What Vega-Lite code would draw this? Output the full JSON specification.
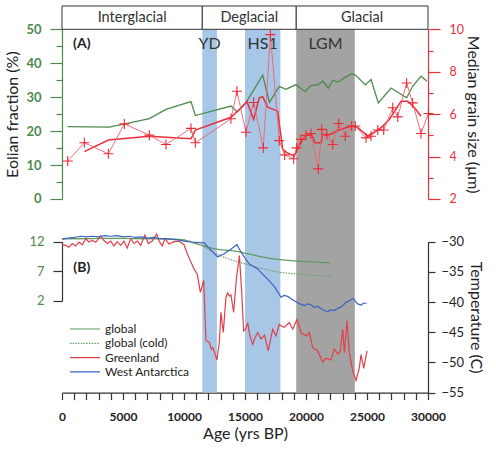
{
  "$schema": "https://vega.github.io/schema/vega-lite/v6.json",
  "width": 366,
  "height": 386.6,
  "padding": {"left": 4, "top": 5, "right": 4, "bottom": 4},
  "config": {"font": "Lato", "view": {"stroke": null}, "axis": {"grid": false},
    "axisX": {"tickSize": 7, "domainColor": "#333", "tickColor": "#333", "domainWidth": 1.2, "tickWidth": 1.2, "labelColor": "#222", "labelFontSize": 12, "labelFontWeight": "bold", "labelPadding": 12, "labelFlush": false, "labelOverlap": false, "labelBound": false, "titleFontSize": 16, "titleFontWeight": "normal", "titleColor": "#222", "titlePadding": 3}},
  "datasets": {
    "bands": [
      {"event": "YD", "start": 11500, "end": 12700},
      {"event": "HS1", "start": 15000, "end": 17900},
      {"event": "LGM", "start": 19200, "end": 24000}
    ],
    "periods": [
      {"period": "Interglacial", "start": 0, "end": 11500},
      {"period": "Deglacial", "start": 11500, "end": 19200},
      {"period": "Glacial", "start": 19200, "end": 30000}
    ],
    "eolian": [
      {"age": 470, "eolian": 21.3}, {"age": 3880, "eolian": 21.2}, {"age": 4970, "eolian": 22.0},
      {"age": 7160, "eolian": 23.7}, {"age": 8520, "eolian": 26.4}, {"age": 10570, "eolian": 28.7},
      {"age": 10930, "eolian": 24.6}, {"age": 13850, "eolian": 27.4}, {"age": 14340, "eolian": 25.7},
      {"age": 15080, "eolian": 28.4}, {"age": 16450, "eolian": 36.5}, {"age": 17000, "eolian": 28.5},
      {"age": 17810, "eolian": 33.2}, {"age": 18360, "eolian": 32.3}, {"age": 19180, "eolian": 33.7},
      {"age": 19920, "eolian": 31.6}, {"age": 20410, "eolian": 33.4}, {"age": 21010, "eolian": 33.7},
      {"age": 21370, "eolian": 34.7}, {"age": 21830, "eolian": 32.7}, {"age": 22190, "eolian": 35.0},
      {"age": 22600, "eolian": 34.4}, {"age": 23140, "eolian": 35.7}, {"age": 23740, "eolian": 36.9},
      {"age": 24100, "eolian": 36.4}, {"age": 24860, "eolian": 33.6}, {"age": 25330, "eolian": 35.2},
      {"age": 25930, "eolian": 28.3}, {"age": 26970, "eolian": 32.7}, {"age": 28250, "eolian": 29.8},
      {"age": 28740, "eolian": 33.2}, {"age": 29430, "eolian": 36.2}, {"age": 29920, "eolian": 34.7}
    ],
    "grainRaw": [
      {"age": 467, "grain": 3.79}, {"age": 1830, "grain": 4.65}, {"age": 3800, "grain": 4.13},
      {"age": 5110, "grain": 5.54}, {"age": 7160, "grain": 5.01}, {"age": 8520, "grain": 4.57},
      {"age": 10570, "grain": 5.33}, {"age": 10930, "grain": 4.65}, {"age": 13850, "grain": 5.78},
      {"age": 14340, "grain": 7.08}, {"age": 15080, "grain": 5.15}, {"age": 15710, "grain": 6.55},
      {"age": 16500, "grain": 4.41}, {"age": 17080, "grain": 9.75}, {"age": 17810, "grain": 4.75},
      {"age": 18250, "grain": 4.08}, {"age": 18990, "grain": 3.9}, {"age": 19220, "grain": 4.41},
      {"age": 19590, "grain": 4.81}, {"age": 20000, "grain": 5.0}, {"age": 20410, "grain": 5.09},
      {"age": 21010, "grain": 3.42}, {"age": 21290, "grain": 5.28}, {"age": 21720, "grain": 5.04},
      {"age": 22190, "grain": 4.57}, {"age": 22680, "grain": 5.56}, {"age": 23220, "grain": 4.96},
      {"age": 23740, "grain": 5.44}, {"age": 24040, "grain": 5.44}, {"age": 24920, "grain": 4.88},
      {"age": 25330, "grain": 4.96}, {"age": 25880, "grain": 5.25}, {"age": 26370, "grain": 5.25},
      {"age": 27110, "grain": 6.3}, {"age": 27520, "grain": 5.87}, {"age": 28250, "grain": 7.47},
      {"age": 28740, "grain": 6.53}, {"age": 29430, "grain": 5.09}, {"age": 30030, "grain": 6.03}
    ],
    "grainSmooth": [
      {"age": 1830, "grain": 4.23}, {"age": 3800, "grain": 4.78}, {"age": 7160, "grain": 4.96},
      {"age": 10570, "grain": 4.84}, {"age": 10930, "grain": 5.25}, {"age": 13850, "grain": 5.85},
      {"age": 14670, "grain": 6.28}, {"age": 15160, "grain": 6.6}, {"age": 15710, "grain": 5.75},
      {"age": 16170, "grain": 6.77}, {"age": 16450, "grain": 6.82}, {"age": 16860, "grain": 6.33},
      {"age": 17680, "grain": 6.14}, {"age": 18090, "grain": 4.34}, {"age": 18400, "grain": 4.2},
      {"age": 19040, "grain": 4.02}, {"age": 19400, "grain": 4.5}, {"age": 19900, "grain": 4.95},
      {"age": 20410, "grain": 5.1}, {"age": 20740, "grain": 4.65}, {"age": 21230, "grain": 4.65},
      {"age": 21370, "grain": 5.05}, {"age": 21720, "grain": 5.0}, {"age": 22190, "grain": 5.1},
      {"age": 22680, "grain": 5.25}, {"age": 23220, "grain": 5.35}, {"age": 23690, "grain": 5.44},
      {"age": 24240, "grain": 5.37}, {"age": 25060, "grain": 4.97}, {"age": 25600, "grain": 5.15},
      {"age": 26150, "grain": 5.36}, {"age": 26830, "grain": 5.75}, {"age": 27790, "grain": 6.61},
      {"age": 28340, "grain": 6.61}, {"age": 28900, "grain": 6.3}, {"age": 29430, "grain": 5.9}
    ],
    "globalT": [
      {"age": 0, "series": "global", "value": 12.5}, {"age": 1000, "series": "global", "value": 12.52},
      {"age": 2000, "series": "global", "value": 12.52}, {"age": 3000, "series": "global", "value": 12.55},
      {"age": 4000, "series": "global", "value": 12.55}, {"age": 5000, "series": "global", "value": 12.55},
      {"age": 6000, "series": "global", "value": 12.53}, {"age": 7000, "series": "global", "value": 12.52},
      {"age": 8000, "series": "global", "value": 12.5}, {"age": 9000, "series": "global", "value": 12.45},
      {"age": 9500, "series": "global", "value": 12.4}, {"age": 10000, "series": "global", "value": 12.3},
      {"age": 10500, "series": "global", "value": 12.0}, {"age": 11000, "series": "global", "value": 11.65},
      {"age": 11500, "series": "global", "value": 11.4}, {"age": 12000, "series": "global", "value": 11.05},
      {"age": 12500, "series": "global", "value": 10.8}, {"age": 13000, "series": "global", "value": 10.65},
      {"age": 13500, "series": "global", "value": 10.55}, {"age": 14000, "series": "global", "value": 10.47},
      {"age": 14500, "series": "global", "value": 10.3}, {"age": 15000, "series": "global", "value": 10.05},
      {"age": 15500, "series": "global", "value": 9.85}, {"age": 16000, "series": "global", "value": 9.6},
      {"age": 16500, "series": "global", "value": 9.4}, {"age": 17000, "series": "global", "value": 9.2},
      {"age": 17500, "series": "global", "value": 9.07}, {"age": 18000, "series": "global", "value": 8.95},
      {"age": 18500, "series": "global", "value": 8.85}, {"age": 19000, "series": "global", "value": 8.76},
      {"age": 19500, "series": "global", "value": 8.69}, {"age": 20000, "series": "global", "value": 8.63},
      {"age": 20500, "series": "global", "value": 8.58}, {"age": 21000, "series": "global", "value": 8.53},
      {"age": 21500, "series": "global", "value": 8.48}, {"age": 22000, "series": "global", "value": 8.44},
      {"age": 0, "series": "global (cold)", "value": 12.45}, {"age": 1000, "series": "global (cold)", "value": 12.48},
      {"age": 2000, "series": "global (cold)", "value": 12.5}, {"age": 3000, "series": "global (cold)", "value": 12.52},
      {"age": 4000, "series": "global (cold)", "value": 12.52}, {"age": 5000, "series": "global (cold)", "value": 12.52},
      {"age": 6000, "series": "global (cold)", "value": 12.5}, {"age": 7000, "series": "global (cold)", "value": 12.48},
      {"age": 8000, "series": "global (cold)", "value": 12.45}, {"age": 9000, "series": "global (cold)", "value": 12.42},
      {"age": 10000, "series": "global (cold)", "value": 12.3}, {"age": 10500, "series": "global (cold)", "value": 12.05},
      {"age": 11000, "series": "global (cold)", "value": 11.72}, {"age": 11500, "series": "global (cold)", "value": 11.3},
      {"age": 12000, "series": "global (cold)", "value": 10.72}, {"age": 12500, "series": "global (cold)", "value": 10.13},
      {"age": 13000, "series": "global (cold)", "value": 9.63}, {"age": 13500, "series": "global (cold)", "value": 9.2},
      {"age": 14000, "series": "global (cold)", "value": 8.86}, {"age": 14500, "series": "global (cold)", "value": 8.53},
      {"age": 15000, "series": "global (cold)", "value": 8.27}, {"age": 15500, "series": "global (cold)", "value": 8.02},
      {"age": 16000, "series": "global (cold)", "value": 7.68}, {"age": 16500, "series": "global (cold)", "value": 7.42},
      {"age": 17000, "series": "global (cold)", "value": 7.17}, {"age": 17500, "series": "global (cold)", "value": 6.97},
      {"age": 18000, "series": "global (cold)", "value": 6.8}, {"age": 19000, "series": "global (cold)", "value": 6.58},
      {"age": 20000, "series": "global (cold)", "value": 6.41}, {"age": 21000, "series": "global (cold)", "value": 6.27},
      {"age": 22000, "series": "global (cold)", "value": 6.19}
    ],
    "polarT": [
      {"age": 30, "series": "Greenland", "temp": -30.5}, {"age": 300, "series": "Greenland", "temp": -30.6},
      {"age": 570, "series": "Greenland", "temp": -30.9}, {"age": 850, "series": "Greenland", "temp": -30.3},
      {"age": 1120, "series": "Greenland", "temp": -30.7}, {"age": 1390, "series": "Greenland", "temp": -30.05},
      {"age": 1670, "series": "Greenland", "temp": -30.5}, {"age": 1940, "series": "Greenland", "temp": -29.5},
      {"age": 2210, "series": "Greenland", "temp": -30.05}, {"age": 2490, "series": "Greenland", "temp": -29.8},
      {"age": 2760, "series": "Greenland", "temp": -30.1}, {"age": 3170, "series": "Greenland", "temp": -29.05},
      {"age": 3440, "series": "Greenland", "temp": -29.8}, {"age": 3720, "series": "Greenland", "temp": -30.3},
      {"age": 3990, "series": "Greenland", "temp": -29.9}, {"age": 4260, "series": "Greenland", "temp": -30.7},
      {"age": 4530, "series": "Greenland", "temp": -30.0}, {"age": 4810, "series": "Greenland", "temp": -30.6},
      {"age": 5080, "series": "Greenland", "temp": -29.9}, {"age": 5350, "series": "Greenland", "temp": -31.05},
      {"age": 5630, "series": "Greenland", "temp": -29.5}, {"age": 5900, "series": "Greenland", "temp": -30.3},
      {"age": 6170, "series": "Greenland", "temp": -29.9}, {"age": 6450, "series": "Greenland", "temp": -30.6},
      {"age": 6800, "series": "Greenland", "temp": -28.9}, {"age": 7070, "series": "Greenland", "temp": -30.3},
      {"age": 7400, "series": "Greenland", "temp": -29.9}, {"age": 7760, "series": "Greenland", "temp": -28.7},
      {"age": 7950, "series": "Greenland", "temp": -29.9}, {"age": 8220, "series": "Greenland", "temp": -30.7},
      {"age": 8440, "series": "Greenland", "temp": -29.5}, {"age": 8770, "series": "Greenland", "temp": -30.4},
      {"age": 9180, "series": "Greenland", "temp": -30.0}, {"age": 9590, "series": "Greenland", "temp": -29.9},
      {"age": 10000, "series": "Greenland", "temp": -30.5}, {"age": 10270, "series": "Greenland", "temp": -32.0},
      {"age": 10550, "series": "Greenland", "temp": -33.3}, {"age": 10820, "series": "Greenland", "temp": -34.5},
      {"age": 11090, "series": "Greenland", "temp": -35.4}, {"age": 11340, "series": "Greenland", "temp": -38.4},
      {"age": 11470, "series": "Greenland", "temp": -37.5}, {"age": 11610, "series": "Greenland", "temp": -36.4},
      {"age": 11800, "series": "Greenland", "temp": -46.4}, {"age": 12080, "series": "Greenland", "temp": -46.7},
      {"age": 12250, "series": "Greenland", "temp": -47.8}, {"age": 12350, "series": "Greenland", "temp": -47.55},
      {"age": 12500, "series": "Greenland", "temp": -48.3}, {"age": 12700, "series": "Greenland", "temp": -49.6},
      {"age": 12890, "series": "Greenland", "temp": -46.7}, {"age": 13030, "series": "Greenland", "temp": -41.7},
      {"age": 13130, "series": "Greenland", "temp": -43.5}, {"age": 13220, "series": "Greenland", "temp": -45.05},
      {"age": 13440, "series": "Greenland", "temp": -39.2}, {"age": 13580, "series": "Greenland", "temp": -38.5},
      {"age": 13720, "series": "Greenland", "temp": -39.0}, {"age": 13850, "series": "Greenland", "temp": -38.8},
      {"age": 14070, "series": "Greenland", "temp": -41.7}, {"age": 14300, "series": "Greenland", "temp": -36.0},
      {"age": 14540, "series": "Greenland", "temp": -32.3}, {"age": 14730, "series": "Greenland", "temp": -38.4},
      {"age": 14890, "series": "Greenland", "temp": -44.8}, {"age": 15050, "series": "Greenland", "temp": -44.5},
      {"age": 15220, "series": "Greenland", "temp": -43.4}, {"age": 15400, "series": "Greenland", "temp": -45.5},
      {"age": 15630, "series": "Greenland", "temp": -47.0}, {"age": 15800, "series": "Greenland", "temp": -46.0},
      {"age": 16040, "series": "Greenland", "temp": -45.05}, {"age": 16310, "series": "Greenland", "temp": -46.1},
      {"age": 16600, "series": "Greenland", "temp": -45.5}, {"age": 16910, "series": "Greenland", "temp": -48.1},
      {"age": 17270, "series": "Greenland", "temp": -44.5}, {"age": 17540, "series": "Greenland", "temp": -45.6},
      {"age": 17810, "series": "Greenland", "temp": -43.7}, {"age": 18000, "series": "Greenland", "temp": -44.0},
      {"age": 18220, "series": "Greenland", "temp": -44.2}, {"age": 18630, "series": "Greenland", "temp": -43.4},
      {"age": 18910, "series": "Greenland", "temp": -44.5}, {"age": 19260, "series": "Greenland", "temp": -42.9},
      {"age": 19590, "series": "Greenland", "temp": -45.05}, {"age": 20000, "series": "Greenland", "temp": -45.6},
      {"age": 20270, "series": "Greenland", "temp": -45.05}, {"age": 20550, "series": "Greenland", "temp": -47.55},
      {"age": 20960, "series": "Greenland", "temp": -48.1}, {"age": 21370, "series": "Greenland", "temp": -49.95},
      {"age": 21640, "series": "Greenland", "temp": -49.3}, {"age": 22050, "series": "Greenland", "temp": -49.6},
      {"age": 22320, "series": "Greenland", "temp": -47.8}, {"age": 22600, "series": "Greenland", "temp": -48.6},
      {"age": 22800, "series": "Greenland", "temp": -48.2}, {"age": 23010, "series": "Greenland", "temp": -44.5},
      {"age": 23140, "series": "Greenland", "temp": -48.4}, {"age": 23360, "series": "Greenland", "temp": -43.1},
      {"age": 23550, "series": "Greenland", "temp": -48.4}, {"age": 23830, "series": "Greenland", "temp": -51.4},
      {"age": 24100, "series": "Greenland", "temp": -53.0}, {"age": 24370, "series": "Greenland", "temp": -50.9},
      {"age": 24510, "series": "Greenland", "temp": -48.7}, {"age": 24730, "series": "Greenland", "temp": -51.0},
      {"age": 25000, "series": "Greenland", "temp": -48.1},
      {"age": 0, "series": "West Antarctica", "temp": -29.6}, {"age": 500, "series": "West Antarctica", "temp": -29.4},
      {"age": 1000, "series": "West Antarctica", "temp": -29.3}, {"age": 1500, "series": "West Antarctica", "temp": -29.1},
      {"age": 2000, "series": "West Antarctica", "temp": -29.2}, {"age": 2500, "series": "West Antarctica", "temp": -29.1},
      {"age": 3000, "series": "West Antarctica", "temp": -29.2}, {"age": 3500, "series": "West Antarctica", "temp": -29.0},
      {"age": 4000, "series": "West Antarctica", "temp": -29.1}, {"age": 4500, "series": "West Antarctica", "temp": -29.0},
      {"age": 5000, "series": "West Antarctica", "temp": -29.2}, {"age": 5500, "series": "West Antarctica", "temp": -29.1},
      {"age": 6000, "series": "West Antarctica", "temp": -29.3}, {"age": 6500, "series": "West Antarctica", "temp": -29.2},
      {"age": 7000, "series": "West Antarctica", "temp": -29.4}, {"age": 7500, "series": "West Antarctica", "temp": -29.3},
      {"age": 8000, "series": "West Antarctica", "temp": -29.5}, {"age": 8500, "series": "West Antarctica", "temp": -29.5},
      {"age": 9000, "series": "West Antarctica", "temp": -29.6}, {"age": 9500, "series": "West Antarctica", "temp": -29.7},
      {"age": 10000, "series": "West Antarctica", "temp": -29.9}, {"age": 10570, "series": "West Antarctica", "temp": -30.05},
      {"age": 11000, "series": "West Antarctica", "temp": -30.1}, {"age": 11660, "series": "West Antarctica", "temp": -30.2},
      {"age": 11970, "series": "West Antarctica", "temp": -30.9}, {"age": 12400, "series": "West Antarctica", "temp": -31.8},
      {"age": 12760, "series": "West Antarctica", "temp": -32.5}, {"age": 13300, "series": "West Antarctica", "temp": -32.0},
      {"age": 13800, "series": "West Antarctica", "temp": -31.3}, {"age": 14340, "series": "West Antarctica", "temp": -30.5},
      {"age": 14670, "series": "West Antarctica", "temp": -31.7}, {"age": 15000, "series": "West Antarctica", "temp": -32.7},
      {"age": 15350, "series": "West Antarctica", "temp": -33.7}, {"age": 16040, "series": "West Antarctica", "temp": -34.5},
      {"age": 16500, "series": "West Antarctica", "temp": -35.5}, {"age": 16860, "series": "West Antarctica", "temp": -36.2},
      {"age": 17400, "series": "West Antarctica", "temp": -37.4}, {"age": 17950, "series": "West Antarctica", "temp": -39.2},
      {"age": 18200, "series": "West Antarctica", "temp": -38.9}, {"age": 18500, "series": "West Antarctica", "temp": -39.05},
      {"age": 18800, "series": "West Antarctica", "temp": -39.5}, {"age": 19040, "series": "West Antarctica", "temp": -39.8},
      {"age": 19500, "series": "West Antarctica", "temp": -40.3}, {"age": 19860, "series": "West Antarctica", "temp": -40.6},
      {"age": 20100, "series": "West Antarctica", "temp": -40.3}, {"age": 20410, "series": "West Antarctica", "temp": -40.45},
      {"age": 20700, "series": "West Antarctica", "temp": -40.9}, {"age": 20960, "series": "West Antarctica", "temp": -40.7},
      {"age": 21300, "series": "West Antarctica", "temp": -41.2}, {"age": 21780, "series": "West Antarctica", "temp": -41.6},
      {"age": 22000, "series": "West Antarctica", "temp": -41.3}, {"age": 22300, "series": "West Antarctica", "temp": -41.4},
      {"age": 22600, "series": "West Antarctica", "temp": -41.05}, {"age": 22900, "series": "West Antarctica", "temp": -40.8},
      {"age": 23280, "series": "West Antarctica", "temp": -40.05}, {"age": 23600, "series": "West Antarctica", "temp": -39.7},
      {"age": 23880, "series": "West Antarctica", "temp": -39.4}, {"age": 24100, "series": "West Antarctica", "temp": -40.0},
      {"age": 24240, "series": "West Antarctica", "temp": -40.3}, {"age": 24500, "series": "West Antarctica", "temp": -40.5},
      {"age": 24700, "series": "West Antarctica", "temp": -40.2}, {"age": 24970, "series": "West Antarctica", "temp": -40.2}
    ],
    "panelLabelA": [{"label": "(A)"}],
    "panelLabelB": [{"label": "(B)"}]
  },
  "resolve": {"scale": {"y": "independent"}, "axis": {"y": "independent"}},
  "layer": [
    {
      "data": {"name": "bands"},
      "mark": {"type": "rect"},
      "encoding": {
        "x": {"field": "start", "type": "quantitative", "scale": {"domain": [0, 30000], "nice": false},
          "axis": {"orient": "bottom", "values": [0,1000,2000,3000,4000,5000,6000,7000,8000,9000,10000,11000,12000,13000,14000,15000,16000,17000,18000,19000,20000,21000,22000,23000,24000,25000,26000,27000,28000,29000,30000],
            "format": "d", "labelExpr": "datum.value % 5000 === 0 ? datum.label : ''", "labelOverlap": false, "title": "Age (yrs BP)"}},
        "x2": {"field": "end"},
        "fill": {"field": "event", "type": "nominal", "scale": {"domain": ["YD", "HS1", "LGM"], "range": ["#a8c7e7", "#a8c7e7", "#a3a3a3"]}, "legend": null}
      }
    },
    {
      "data": {"name": "periods"},
      "mark": {"type": "rect", "fill": "white", "stroke": "#333", "strokeWidth": 1},
      "encoding": {
        "x": {"field": "start", "type": "quantitative", "scale": {"domain": [0, 30000], "nice": false},
          "axis": {"orient": "bottom", "values": [0,1000,2000,3000,4000,5000,6000,7000,8000,9000,10000,11000,12000,13000,14000,15000,16000,17000,18000,19000,20000,21000,22000,23000,24000,25000,26000,27000,28000,29000,30000],
            "format": "d", "labelExpr": "datum.value % 5000 === 0 ? datum.label : ''", "labelOverlap": false, "title": "Age (yrs BP)"}},
        "x2": {"field": "end"},
        "y": {"datum": 0, "type": "quantitative", "scale": {"domain": [0, 1], "range": [23.3, 0]}, "axis": null},
        "y2": {"datum": 1}
      }
    },
    {
      "data": {"name": "periods"},
      "transform": [{"calculate": "(datum.start + datum.end) / 2", "as": "mid"}],
      "mark": {"type": "text", "fontSize": 14.5, "color": "#333", "baseline": "middle"},
      "encoding": {
        "x": {"field": "mid", "type": "quantitative", "scale": {"domain": [0, 30000], "nice": false},
          "axis": {"orient": "bottom", "values": [0,1000,2000,3000,4000,5000,6000,7000,8000,9000,10000,11000,12000,13000,14000,15000,16000,17000,18000,19000,20000,21000,22000,23000,24000,25000,26000,27000,28000,29000,30000],
            "format": "d", "labelExpr": "datum.value % 5000 === 0 ? datum.label : ''", "labelOverlap": false, "title": "Age (yrs BP)"}},
        "y": {"datum": 0.5, "type": "quantitative", "scale": {"domain": [0, 1], "range": [23.3, 0]}, "axis": null},
        "text": {"field": "period"}
      }
    },
    {
      "data": {"name": "bands"},
      "transform": [{"calculate": "(datum.start + datum.end) / 2", "as": "mid"}],
      "mark": {"type": "text", "fontSize": 16, "color": "#333", "baseline": "middle"},
      "encoding": {
        "x": {"field": "mid", "type": "quantitative", "scale": {"domain": [0, 30000], "nice": false},
          "axis": {"orient": "bottom", "values": [0,1000,2000,3000,4000,5000,6000,7000,8000,9000,10000,11000,12000,13000,14000,15000,16000,17000,18000,19000,20000,21000,22000,23000,24000,25000,26000,27000,28000,29000,30000],
            "format": "d", "labelExpr": "datum.value % 5000 === 0 ? datum.label : ''", "labelOverlap": false, "title": "Age (yrs BP)"}},
        "y": {"datum": 45.6, "type": "quantitative", "scale": {"domain": [0, 50], "range": [193, 23.3]}, "axis": null},
        "text": {"field": "event"}
      }
    },
    {
      "data": {"name": "panelLabelA"},
      "mark": {"type": "text", "fontSize": 14, "fontWeight": "bold", "color": "#222", "baseline": "middle"},
      "encoding": {
        "x": {"datum": 1620, "type": "quantitative", "scale": {"domain": [0, 30000], "nice": false},
          "axis": {"orient": "bottom", "values": [0,1000,2000,3000,4000,5000,6000,7000,8000,9000,10000,11000,12000,13000,14000,15000,16000,17000,18000,19000,20000,21000,22000,23000,24000,25000,26000,27000,28000,29000,30000],
            "format": "d", "labelExpr": "datum.value % 5000 === 0 ? datum.label : ''", "labelOverlap": false, "title": "Age (yrs BP)"}},
        "y": {"datum": 45.6, "type": "quantitative", "scale": {"domain": [0, 50], "range": [193, 23.3]},
          "axis": {"orient": "left", "values": [5, 15, 25, 35, 45], "tickSize": 6, "labels": false, "domain": false, "tickColor": "#4e8a4e", "tickWidth": 1.2, "title": null}},
        "text": {"field": "label"}
      }
    },
    {
      "data": {"name": "eolian"},
      "mark": {"type": "line", "color": "#4e8a4e", "strokeWidth": 1.3},
      "encoding": {
        "x": {"field": "age", "type": "quantitative", "scale": {"domain": [0, 30000], "nice": false},
          "axis": {"orient": "bottom", "values": [0,1000,2000,3000,4000,5000,6000,7000,8000,9000,10000,11000,12000,13000,14000,15000,16000,17000,18000,19000,20000,21000,22000,23000,24000,25000,26000,27000,28000,29000,30000],
            "format": "d", "labelExpr": "datum.value % 5000 === 0 ? datum.label : ''", "labelOverlap": false, "title": "Age (yrs BP)"}},
        "y": {"field": "eolian", "type": "quantitative", "scale": {"domain": [0, 50], "range": [193, 23.3]},
          "axis": {"orient": "left", "values": [0, 10, 20, 30, 40, 50], "tickSize": 12, "domainColor": "#4e8a4e", "tickColor": "#4e8a4e", "domainWidth": 1.2, "tickWidth": 1.2,
            "labelColor": "#4e8a4e", "labelFontSize": 13, "labelFontWeight": "bold", "labelPadding": 9,
            "title": "Eolian fraction (%)", "titleFontSize": 16, "titleFontWeight": "normal", "titleColor": "#222", "titlePadding": 5}}
      }
    },
    {
      "data": {"name": "grainSmooth"},
      "mark": {"type": "line", "color": "#e8303c", "strokeWidth": 1.5},
      "encoding": {
        "x": {"field": "age", "type": "quantitative", "scale": {"domain": [0, 30000], "nice": false},
          "axis": {"orient": "bottom", "values": [0,1000,2000,3000,4000,5000,6000,7000,8000,9000,10000,11000,12000,13000,14000,15000,16000,17000,18000,19000,20000,21000,22000,23000,24000,25000,26000,27000,28000,29000,30000],
            "format": "d", "labelExpr": "datum.value % 5000 === 0 ? datum.label : ''", "labelOverlap": false, "title": "Age (yrs BP)"}},
        "y": {"field": "grain", "type": "quantitative", "scale": {"domain": [2, 10], "range": [193, 23.3]}, "axis": null}
      }
    },
    {
      "data": {"name": "grainRaw"},
      "mark": {"type": "line", "color": "#f0606a", "strokeWidth": 0.9},
      "encoding": {
        "x": {"field": "age", "type": "quantitative", "scale": {"domain": [0, 30000], "nice": false},
          "axis": {"orient": "bottom", "values": [0,1000,2000,3000,4000,5000,6000,7000,8000,9000,10000,11000,12000,13000,14000,15000,16000,17000,18000,19000,20000,21000,22000,23000,24000,25000,26000,27000,28000,29000,30000],
            "format": "d", "labelExpr": "datum.value % 5000 === 0 ? datum.label : ''", "labelOverlap": false, "title": "Age (yrs BP)"}},
        "y": {"field": "grain", "type": "quantitative", "scale": {"domain": [2, 10], "range": [193, 23.3]},
          "axis": {"orient": "right", "values": [2, 4, 6, 8, 10], "tickSize": 12, "domainColor": "#e8303c", "tickColor": "#e8303c", "domainWidth": 1.2, "tickWidth": 1.2,
            "labelColor": "#e8303c", "labelFontSize": 12.5, "labelPadding": 9,
            "title": "Median grain size (µm)", "titleFontSize": 16, "titleFontWeight": "normal", "titleColor": "#222", "titlePadding": 1}}
      }
    },
    {
      "data": {"name": "grainRaw"},
      "mark": {"type": "point", "shape": "M-1,0L1,0M0,-1L0,1", "filled": false, "color": "#ee2a36", "strokeWidth": 1.1, "size": 100, "opacity": 1},
      "encoding": {
        "x": {"field": "age", "type": "quantitative", "scale": {"domain": [0, 30000], "nice": false},
          "axis": {"orient": "bottom", "values": [0,1000,2000,3000,4000,5000,6000,7000,8000,9000,10000,11000,12000,13000,14000,15000,16000,17000,18000,19000,20000,21000,22000,23000,24000,25000,26000,27000,28000,29000,30000],
            "format": "d", "labelExpr": "datum.value % 5000 === 0 ? datum.label : ''", "labelOverlap": false, "title": "Age (yrs BP)"}},
        "y": {"field": "grain", "type": "quantitative", "scale": {"domain": [2, 10], "range": [193, 23.3]},
          "axis": {"orient": "right", "values": [3, 5, 7, 9], "tickSize": 5, "labels": false, "domain": false, "tickColor": "#e8303c", "tickWidth": 1.2, "title": null}}
      }
    },
    {
      "data": {"name": "globalT"},
      "mark": {"type": "line", "strokeWidth": 1.2},
      "encoding": {
        "x": {"field": "age", "type": "quantitative", "scale": {"domain": [0, 30000], "nice": false},
          "axis": {"orient": "bottom", "values": [0,1000,2000,3000,4000,5000,6000,7000,8000,9000,10000,11000,12000,13000,14000,15000,16000,17000,18000,19000,20000,21000,22000,23000,24000,25000,26000,27000,28000,29000,30000],
            "format": "d", "labelExpr": "datum.value % 5000 === 0 ? datum.label : ''", "labelOverlap": false, "title": "Age (yrs BP)"}},
        "y": {"field": "value", "type": "quantitative", "scale": {"domain": [2, 12], "range": [295, 235.7]},
          "axis": {"orient": "left", "values": [2, 7, 12], "tickSize": 9, "domainColor": "#333", "tickColor": "#333", "domainWidth": 1.2, "tickWidth": 1.2,
            "labelColor": "#4e8a4e", "labelFontSize": 13, "labelPadding": 9, "title": null}},
        "color": {"field": "series", "type": "nominal",
          "scale": {"domain": ["global", "global (cold)", "Greenland", "West Antarctica"], "range": ["#5c995c", "#6f9f6f", "#e0404a", "#3b63c2"]},
          "legend": {"orient": "none", "legendX": 17, "legendY": 317, "title": null, "symbolType": "M-3,0L3,0", "symbolSize": 100, "symbolStrokeWidth": 1.2,
            "labelFontSize": 12, "labelColor": "#222", "labelOffset": 14, "rowPadding": 2.3, "padding": 0}},
        "strokeDash": {"field": "series", "type": "nominal",
          "scale": {"domain": ["global", "global (cold)", "Greenland", "West Antarctica"], "range": [[1, 0], [1.5, 1.2], [1, 0], [1, 0]]},
          "legend": {"orient": "none", "legendX": 17, "legendY": 317, "title": null, "symbolType": "M-3,0L3,0", "symbolSize": 100, "symbolStrokeWidth": 1.2,
            "labelFontSize": 12, "labelColor": "#222", "labelOffset": 14, "rowPadding": 2.3, "padding": 0}}
      }
    },
    {
      "data": {"name": "panelLabelB"},
      "mark": {"type": "text", "fontSize": 14, "fontWeight": "bold", "color": "#222", "baseline": "middle"},
      "encoding": {
        "x": {"datum": 1620, "type": "quantitative", "scale": {"domain": [0, 30000], "nice": false},
          "axis": {"orient": "bottom", "values": [0,1000,2000,3000,4000,5000,6000,7000,8000,9000,10000,11000,12000,13000,14000,15000,16000,17000,18000,19000,20000,21000,22000,23000,24000,25000,26000,27000,28000,29000,30000],
            "format": "d", "labelExpr": "datum.value % 5000 === 0 ? datum.label : ''", "labelOverlap": false, "title": "Age (yrs BP)"}},
        "y": {"datum": 7.6, "type": "quantitative", "scale": {"domain": [2, 12], "range": [295, 235.7]}, "axis": null},
        "text": {"field": "label"}
      }
    },
    {
      "data": {"name": "polarT"},
      "mark": {"type": "line", "strokeWidth": 1.2},
      "encoding": {
        "x": {"field": "age", "type": "quantitative", "scale": {"domain": [0, 30000], "nice": false},
          "axis": {"orient": "bottom", "values": [0,1000,2000,3000,4000,5000,6000,7000,8000,9000,10000,11000,12000,13000,14000,15000,16000,17000,18000,19000,20000,21000,22000,23000,24000,25000,26000,27000,28000,29000,30000],
            "format": "d", "labelExpr": "datum.value % 5000 === 0 ? datum.label : ''", "labelOverlap": false, "title": "Age (yrs BP)"}},
        "y": {"field": "temp", "type": "quantitative", "scale": {"domain": [-55, -30], "range": [386.6, 235.7]},
          "axis": {"orient": "right", "values": [-30, -35, -40, -45, -50, -55], "tickSize": 7, "domainColor": "#333", "tickColor": "#333", "domainWidth": 1.2, "tickWidth": 1.2,
            "labelColor": "#222", "labelFontSize": 13, "labelPadding": 6,
            "title": "Temperature (C)", "titleFontSize": 16, "titleFontWeight": "normal", "titleColor": "#222", "titlePadding": 4}},
        "color": {"field": "series", "type": "nominal",
          "scale": {"domain": ["global", "global (cold)", "Greenland", "West Antarctica"], "range": ["#5c995c", "#6f9f6f", "#e0404a", "#3b63c2"]}}
      }
    }
  ]
}
